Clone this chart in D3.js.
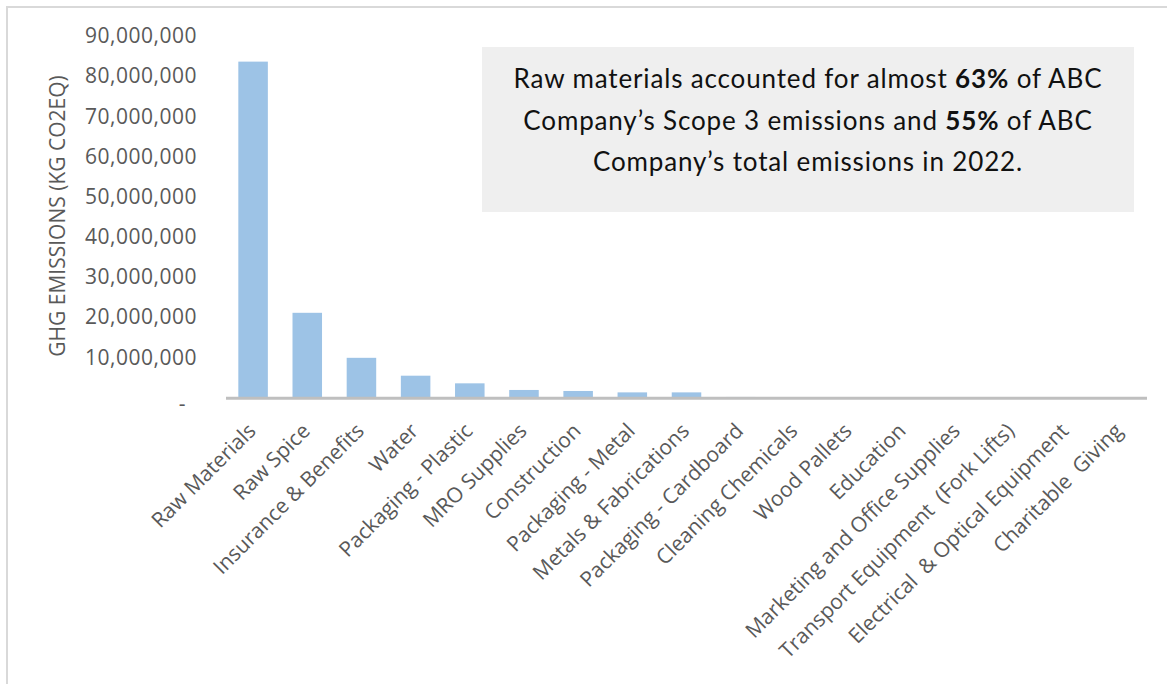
<!DOCTYPE html>
<html>
<head>
<meta charset="utf-8">
<script src="https://cdnjs.cloudflare.com/ajax/libs/d3/7.8.5/d3.min.js"></script>
<style>
  body { margin: 0; background: #fff; }
  svg { display: block; }
</style>
</head>
<body>
<svg></svg>
<script>
// categories and values (kg CO2eq)
let categories = ["Raw Materials", "Raw Spice", "Insurance & Benefits", "Water", "Packaging - Plastic",
  "MRO Supplies", "Construction", "Packaging - Metal", "Metals & Fabrications", "Packaging - Cardboard",
  "Cleaning Chemicals", "Wood Pallets", "Education", "Marketing and Office Supplies",
  "Transport Equipment  (Fork Lifts)", "Electrical  & Optical Equipment", "Charitable  Giving"];
let emissions = [83500000, 21000000, 9800000, 5350000, 3450000, 1800000, 1550000, 1200000, 1200000,
  60000, 50000, 40000, 30000, 30000, 20000, 20000, 10000];
let yTicks = [0, 10000000, 20000000, 30000000, 40000000, 50000000, 60000000, 70000000, 80000000, 90000000];
let noteLines = [
  [["Raw materials accounted for almost ", false], ["63%", true], [" of ABC", false]],
  [["Company\u2019s Scope 3 emissions and ", false], ["55%", true], [" of ABC", false]],
  [["Company\u2019s total emissions in 2022.", false]]
];

var svgWidth = 1167, svgHeight = 684;
var svg = d3.select("svg").attr("width", svgWidth).attr("height", svgHeight);

// outer frame
svg.append("rect")
   .attr("x", 7).attr("y", 7)
   .attr("width", 1175).attr("height", 700)
   .attr("fill", "none").attr("stroke", "#d9d9d9").attr("stroke-width", 2);

var plotLeft = 226, plotRight = 1147, plotTop = 35.5, plotBottom = 397.2;

var x = d3.scaleBand().domain(categories).range([plotLeft, plotRight]).paddingInner(0.455).paddingOuter(0.2275);
var y = d3.scaleLinear().domain([0, 90000000]).range([plotBottom, plotTop]);

// bars
svg.selectAll("rect.bar")
   .data(emissions)
   .enter()
   .append("rect")
   .attr("class", "bar")
   .attr("x", (d, i) => x(categories[i]))
   .attr("y", d => y(d))
   .attr("width", x.bandwidth())
   .attr("height", d => plotBottom - y(d))
   .attr("fill", "#9dc3e6");

// y axis (labels only)
var fmt = d3.format(",");
var yAxis = d3.axisLeft(y).tickValues(yTicks).tickSize(0).tickPadding(0)
              .tickFormat(d => d === 0 ? "-" : fmt(d));
var gy = svg.append("g").attr("transform", "translate(197,0)").call(yAxis);
gy.select(".domain").remove();
gy.selectAll("text")
  .attr("font-family", "Open Sans").attr("font-size", 21)
  .attr("letter-spacing", 0.5)
  .attr("fill", "#595959")
  .attr("dx", d => d === 0 ? -11 : 0)
  .attr("dy", d => d === 0 ? "0.62em" : "0.34em");

// x axis
var xAxis = d3.axisBottom(x).tickSize(0).tickPadding(0);
var gx = svg.append("g").attr("transform", `translate(0,${plotBottom})`).call(xAxis);
gx.select(".domain").attr("stroke", "#bfbfbf").attr("stroke-width", 3)
  .attr("d", `M${plotLeft},1H${plotRight}`);
gx.selectAll("text")
  .attr("font-family", "Open Sans").attr("font-size", 21)
  .attr("fill", "#595959")
  .attr("text-anchor", "end")
  .style("white-space", "pre")
  .attr("dy", null).attr("y", 0)
  .attr("transform", "translate(4,35) rotate(-45)");

// y axis title
svg.append("text")
   .attr("transform", "translate(65,216) rotate(-90)")
   .attr("text-anchor", "middle")
   .attr("font-family", "Open Sans").attr("font-size", 21)
   .attr("fill", "#595959")
   .text("GHG EMISSIONS (KG CO2EQ)");

// note box
svg.append("rect")
   .attr("x", 482).attr("y", 47).attr("width", 652).attr("height", 165)
   .attr("fill", "#efefef");

var note = svg.append("text")
   .attr("text-anchor", "middle")
   .attr("font-family", "Lato").attr("font-size", 26)
   .attr("letter-spacing", 0.85)
   .attr("fill", "#111");
noteLines.forEach((parts, i) => {
  parts.forEach((p, j) => {
    var t = note.append("tspan").text(p[0]).attr("font-weight", p[1] ? "bold" : "normal");
    if (j === 0) t.attr("x", 808).attr("y", 88 + i * 41.5);
  });
});
</script>
</body>
</html>
